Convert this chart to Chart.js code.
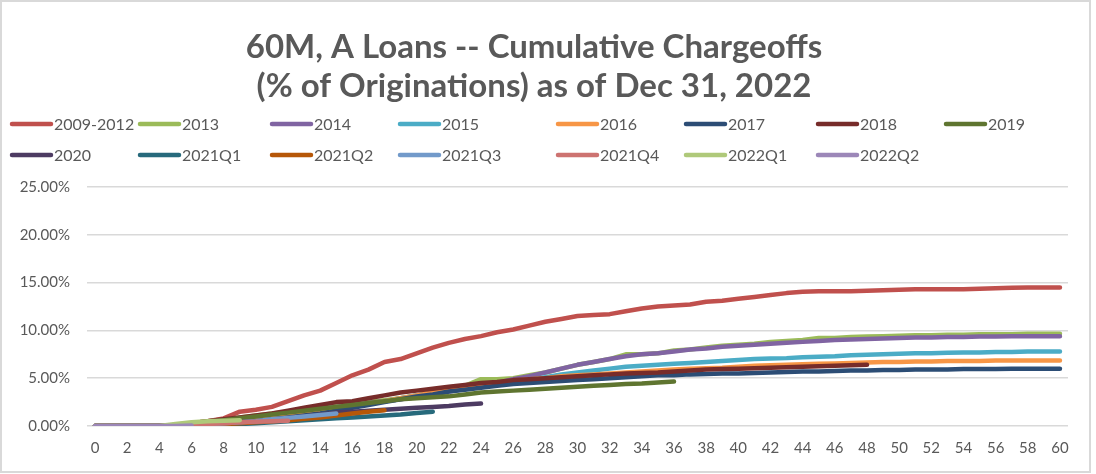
<!DOCTYPE html>
<html>
<head>
<meta charset="utf-8">
<script src="https://cdn.jsdelivr.net/npm/chart.js@4.4.0/dist/chart.umd.min.js"></script>
<style>
  body { margin: 0; background: #fff; }
  #wrap { position: relative; width: 1096px; height: 474px; }
</style>
</head>
<body>
<div id="wrap"><canvas id="lossChart" width="1096" height="474"></canvas></div>
<script>
// months on book 0..60
const months = Array.from({ length: 61 }, (_, i) => String(i));

const cohorts = ['2009-2012', '2013', '2014', '2015', '2016', '2017', '2018', '2019',
                 '2020', '2021Q1', '2021Q2', '2021Q3', '2021Q4', '2022Q1', '2022Q2'];

const colors = ['#C0504D', '#9BBB59', '#8064A2', '#4BACC6', '#F79646', '#2C4D75', '#772C2A', '#5F7530',
                '#4D3B62', '#276A7C', '#B65708', '#729ACA', '#CD7371', '#AFC97A', '#9C87B8'];

// cumulative chargeoffs, % of originations
const v2009_2012 = [0,0,0,0,0,0.1,0.3,0.5,0.8,1.5,1.7,2.0,2.6,3.2,3.7,4.5,5.3,5.9,6.7,7.0,7.6,8.2,8.7,9.1,9.4,9.8,10.1,10.5,10.9,11.2,11.5,11.6,11.7,12.0,12.3,12.5,12.6,12.7,13.0,13.1,13.3,13.5,13.7,13.9,14.05,14.1,14.1,14.1,14.15,14.2,14.25,14.3,14.3,14.3,14.3,14.35,14.4,14.45,14.5,14.5,14.5];
const v2013 = [0,0,0,0,0,0.1,0.3,0.5,0.6,0.9,1.1,1.3,1.5,1.7,1.9,2.1,2.3,2.5,2.7,2.9,3.2,3.5,3.8,4.2,4.9,4.9,5.0,5.3,5.6,6.0,6.4,6.7,7.0,7.5,7.5,7.6,7.9,8.0,8.2,8.4,8.5,8.6,8.8,8.9,9.0,9.2,9.2,9.3,9.35,9.4,9.45,9.5,9.5,9.55,9.55,9.6,9.6,9.6,9.65,9.65,9.65];
const v2014 = [0,0,0,0,0,0.05,0.2,0.4,0.5,0.7,0.9,1.1,1.3,1.5,1.8,2.0,2.2,2.4,2.6,2.8,3.0,3.3,3.6,3.9,4.2,4.5,4.9,5.2,5.6,6.0,6.4,6.7,7.0,7.3,7.5,7.6,7.8,8.0,8.1,8.3,8.4,8.5,8.6,8.7,8.8,8.9,9.0,9.05,9.1,9.15,9.2,9.25,9.25,9.3,9.3,9.35,9.35,9.4,9.4,9.4,9.4];
const v2015 = [0,0,0,0,0,0,0.1,0.2,0.3,0.5,0.7,0.9,1.1,1.3,1.6,1.8,2.1,2.3,2.6,2.9,3.2,3.4,3.7,4.0,4.2,4.4,4.6,4.8,5.1,5.4,5.6,5.8,6.0,6.2,6.3,6.4,6.5,6.6,6.7,6.8,6.9,7.0,7.05,7.1,7.2,7.25,7.3,7.4,7.45,7.5,7.55,7.6,7.6,7.65,7.7,7.7,7.75,7.75,7.8,7.8,7.8];
const v2016 = [0,0,0,0,0,0,0.1,0.2,0.3,0.5,0.6,0.8,1.0,1.2,1.5,1.7,2.0,2.3,2.6,2.9,3.2,3.5,3.8,4.1,4.3,4.5,4.7,4.9,5.0,5.2,5.3,5.4,5.5,5.6,5.7,5.8,5.9,6.0,6.05,6.1,6.2,6.3,6.35,6.4,6.45,6.5,6.55,6.6,6.65,6.7,6.7,6.75,6.75,6.8,6.8,6.8,6.85,6.85,6.85,6.85,6.85];
const v2017 = [0,0,0,0,0,0,0.05,0.1,0.2,0.4,0.5,0.7,0.9,1.1,1.3,1.6,1.9,2.2,2.5,2.8,3.1,3.3,3.6,3.8,4.0,4.2,4.4,4.5,4.6,4.7,4.8,4.9,5.0,5.1,5.2,5.3,5.3,5.4,5.45,5.5,5.5,5.55,5.6,5.65,5.7,5.7,5.75,5.8,5.8,5.85,5.85,5.9,5.9,5.9,5.95,5.95,5.95,6.0,6.0,6.0,6.0];
const v2018 = [0,0,0,0,0,0.1,0.3,0.5,0.7,0.9,1.1,1.3,1.6,1.9,2.2,2.5,2.6,2.9,3.2,3.5,3.7,3.9,4.1,4.3,4.5,4.6,4.8,4.9,5.0,5.1,5.2,5.3,5.4,5.5,5.55,5.6,5.7,5.8,5.9,5.95,6.0,6.05,6.1,6.15,6.2,6.25,6.3,6.35,6.4];
const v2019 = [0,0,0,0,0,0.1,0.2,0.4,0.6,0.8,1.0,1.2,1.4,1.6,1.8,2.0,2.2,2.4,2.6,2.8,2.9,3.0,3.1,3.3,3.5,3.6,3.7,3.8,3.9,4.0,4.1,4.2,4.3,4.4,4.45,4.55,4.65];
const v2020 = [0,0,0,0,0,0,0.1,0.2,0.3,0.4,0.5,0.6,0.8,1.0,1.2,1.4,1.5,1.6,1.7,1.8,1.9,2.0,2.1,2.25,2.35];
const v2021q1 = [0,0,0,0,0,0,0.05,0.1,0.15,0.2,0.3,0.4,0.5,0.6,0.7,0.8,0.9,1.0,1.1,1.2,1.35,1.5];
const v2021q2 = [0,0,0,0,0,0,0.05,0.1,0.2,0.3,0.4,0.5,0.6,0.75,0.9,1.1,1.3,1.5,1.65];
const v2021q3 = [0,0,0,0,0,0,0.1,0.2,0.3,0.4,0.5,0.7,0.85,1.0,1.15,1.3];
const v2021q4 = [0,0,0,0,0,0.05,0.1,0.2,0.3,0.4,0.45,0.5,0.55];
const v2022q1 = [0,0,0,0,0,0.2,0.4,0.5,0.55,0.6];
const v2022q2 = [0,0,0,0,0,0,0.05];

const series = [v2009_2012, v2013, v2014, v2015, v2016, v2017, v2018, v2019,
                v2020, v2021q1, v2021q2, v2021q3, v2021q4, v2022q1, v2022q2];

const yTicks = [0, 5, 10, 15, 20, 25];

const textColor = '#595959';
const fontFamily = 'Lato, "Open Sans", sans-serif';

// legend laid out in a fixed grid like the Excel original
const gridLegend = {
    id: 'gridLegend',
    afterDraw(chart) {
        const ctx = chart.ctx;
        const colX = [10, 138, 270, 398, 556, 684, 816, 944];
        const rowY = [124, 155];
        ctx.save();
        ctx.font = '16px ' + fontFamily;
        ctx.textBaseline = 'middle';
        ctx.lineCap = 'round';
        ctx.lineWidth = 4.5;
        cohorts.forEach((name, i) => {
            const x = colX[i % 8];
            const y = rowY[Math.floor(i / 8)];
            ctx.strokeStyle = colors[i];
            ctx.beginPath();
            ctx.moveTo(x + 2, y);
            ctx.lineTo(x + 41, y);
            ctx.stroke();
            ctx.fillStyle = textColor;
            ctx.fillText(name, x + 44, y + 1);
        });
        ctx.restore();
    }
};

const frame = {
    id: 'frame',
    beforeDraw(chart) {
        const ctx = chart.ctx;
        ctx.save();
        ctx.fillStyle = '#ffffff';
        ctx.fillRect(0, 0, chart.width, chart.height);
        ctx.strokeStyle = '#d9d9d9';
        ctx.lineWidth = 2;
        ctx.strokeRect(1, 1, 1089, 471);
        ctx.restore();
    }
};

const ctx = document.getElementById('lossChart').getContext('2d');
new Chart(ctx, {
    type: 'line',
    data: {
        labels: months,
        datasets: series.map((vals, i) => ({
            label: cohorts[i],
            data: vals,
            borderColor: colors[i],
            backgroundColor: colors[i],
            borderWidth: 4.5,
            borderCapStyle: 'round',
            borderJoinStyle: 'round',
            pointRadius: 0,
            tension: 0,
            order: series.length - i
        }))
    },
    options: {
        responsive: false,
        animation: false,
        layout: { padding: { left: 0, right: 28, top: 0, bottom: 0 } },
        plugins: {
            legend: { display: false },
            tooltip: { enabled: false },
            title: {
                display: true,
                text: ['60M, A Loans -- Cumulative Chargeoffs', '(% of Originations) as of Dec 31, 2022'],
                color: textColor,
                font: { family: fontFamily, size: 33, weight: 'bold', lineHeight: 39 / 33 },
                padding: { top: 28, bottom: 81 }
            }
        },
        scales: {
            x: {
                type: 'category',
                offset: true,
                grid: { display: false, drawTicks: false },
                border: { display: false },
                ticks: {
                    autoSkip: false,
                    maxRotation: 0,
                    padding: 13,
                    color: textColor,
                    font: { family: fontFamily, size: 15 },
                    callback: (v, i) => (i % 2 === 0 ? months[i] : '')
                },
                afterFit: s => { s.height = 48; }
            },
            y: {
                min: 0,
                max: 25,
                afterBuildTicks: s => { s.ticks = yTicks.map(v => ({ value: v })); },
                grid: { color: '#d9d9d9', lineWidth: 1.5, drawTicks: false },
                border: { display: false },
                ticks: {
                    padding: 17,
                    color: textColor,
                    font: { family: fontFamily, size: 15 },
                    callback: v => v.toFixed(2) + '%'
                },
                afterFit: s => { s.width = 87; }
            }
        }
    },
    plugins: [frame, gridLegend]
});
</script>
</body>
</html>
